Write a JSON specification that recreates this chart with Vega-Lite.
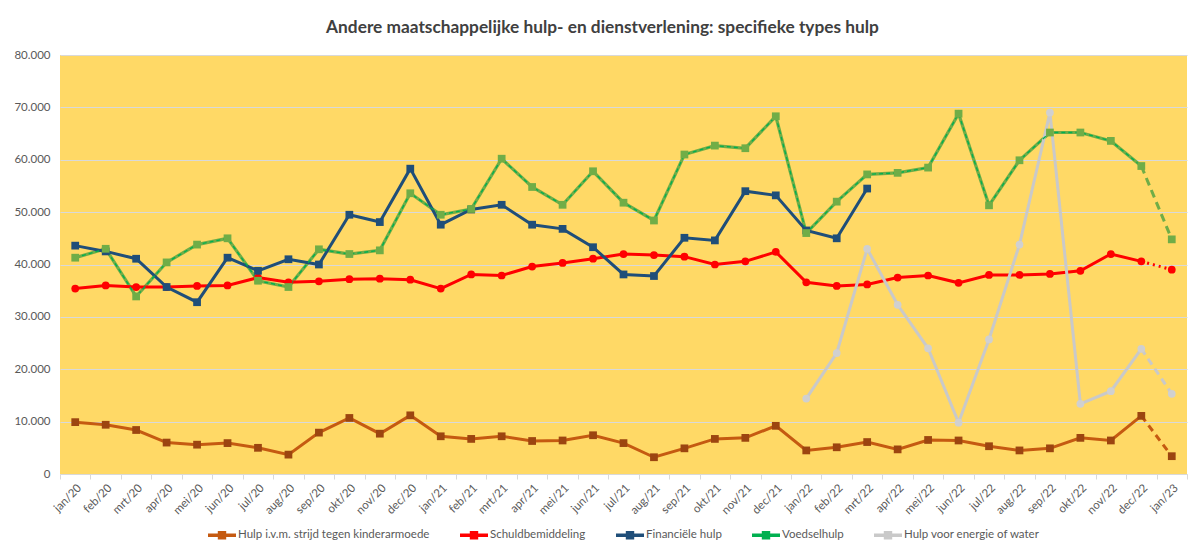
{
  "$schema": "https://vega.github.io/schema/vega-lite/v6.json",
  "width": 1127,
  "height": 419,
  "autosize": {"type": "none"},
  "padding": {"left": 60, "top": 55, "right": 16, "bottom": 75},
  "background": "white",
  "title": {"text": "Andere maatschappelijke hulp- en dienstverlening: specifieke types hulp", "font": "Lato", "fontSize": 17.3, "fontWeight": "bold", "color": "#404040", "anchor": "middle", "offset": 13, "dx": -21},
  "config": {
    "locale": {"number": {"decimal": ",", "thousands": ".", "grouping": [3], "currency": ["€ ", ""]}},
    "view": {"fill": "#FFD966", "stroke": null},
    "font": "Lato",
    "axis": {"labelFont": "Lato", "labelColor": "#595959", "labelFontSize": 11}
  },
  "data": {"values": [
    {"m":"jan/20","s":"Hulp i.v.m. strijd tegen kinderarmoede","v":9900},
    {"m":"feb/20","s":"Hulp i.v.m. strijd tegen kinderarmoede","v":9400},
    {"m":"mrt/20","s":"Hulp i.v.m. strijd tegen kinderarmoede","v":8400},
    {"m":"apr/20","s":"Hulp i.v.m. strijd tegen kinderarmoede","v":6000},
    {"m":"mei/20","s":"Hulp i.v.m. strijd tegen kinderarmoede","v":5600},
    {"m":"jun/20","s":"Hulp i.v.m. strijd tegen kinderarmoede","v":5900},
    {"m":"jul/20","s":"Hulp i.v.m. strijd tegen kinderarmoede","v":5000},
    {"m":"aug/20","s":"Hulp i.v.m. strijd tegen kinderarmoede","v":3700},
    {"m":"sep/20","s":"Hulp i.v.m. strijd tegen kinderarmoede","v":7900},
    {"m":"okt/20","s":"Hulp i.v.m. strijd tegen kinderarmoede","v":10700},
    {"m":"nov/20","s":"Hulp i.v.m. strijd tegen kinderarmoede","v":7700},
    {"m":"dec/20","s":"Hulp i.v.m. strijd tegen kinderarmoede","v":11200},
    {"m":"jan/21","s":"Hulp i.v.m. strijd tegen kinderarmoede","v":7200},
    {"m":"feb/21","s":"Hulp i.v.m. strijd tegen kinderarmoede","v":6700},
    {"m":"mrt/21","s":"Hulp i.v.m. strijd tegen kinderarmoede","v":7200},
    {"m":"apr/21","s":"Hulp i.v.m. strijd tegen kinderarmoede","v":6300},
    {"m":"mei/21","s":"Hulp i.v.m. strijd tegen kinderarmoede","v":6400},
    {"m":"jun/21","s":"Hulp i.v.m. strijd tegen kinderarmoede","v":7400},
    {"m":"jul/21","s":"Hulp i.v.m. strijd tegen kinderarmoede","v":5900},
    {"m":"aug/21","s":"Hulp i.v.m. strijd tegen kinderarmoede","v":3200},
    {"m":"sep/21","s":"Hulp i.v.m. strijd tegen kinderarmoede","v":4900},
    {"m":"okt/21","s":"Hulp i.v.m. strijd tegen kinderarmoede","v":6700},
    {"m":"nov/21","s":"Hulp i.v.m. strijd tegen kinderarmoede","v":6900},
    {"m":"dec/21","s":"Hulp i.v.m. strijd tegen kinderarmoede","v":9200},
    {"m":"jan/22","s":"Hulp i.v.m. strijd tegen kinderarmoede","v":4500},
    {"m":"feb/22","s":"Hulp i.v.m. strijd tegen kinderarmoede","v":5100},
    {"m":"mrt/22","s":"Hulp i.v.m. strijd tegen kinderarmoede","v":6100},
    {"m":"apr/22","s":"Hulp i.v.m. strijd tegen kinderarmoede","v":4700},
    {"m":"mei/22","s":"Hulp i.v.m. strijd tegen kinderarmoede","v":6500},
    {"m":"jun/22","s":"Hulp i.v.m. strijd tegen kinderarmoede","v":6400},
    {"m":"jul/22","s":"Hulp i.v.m. strijd tegen kinderarmoede","v":5300},
    {"m":"aug/22","s":"Hulp i.v.m. strijd tegen kinderarmoede","v":4500},
    {"m":"sep/22","s":"Hulp i.v.m. strijd tegen kinderarmoede","v":4900},
    {"m":"okt/22","s":"Hulp i.v.m. strijd tegen kinderarmoede","v":6900},
    {"m":"nov/22","s":"Hulp i.v.m. strijd tegen kinderarmoede","v":6400},
    {"m":"dec/22","s":"Hulp i.v.m. strijd tegen kinderarmoede","v":11100},
    {"m":"jan/23","s":"Hulp i.v.m. strijd tegen kinderarmoede","v":3400},
    {"m":"jan/20","s":"Schuldbemiddeling","v":35400},
    {"m":"feb/20","s":"Schuldbemiddeling","v":36000},
    {"m":"mrt/20","s":"Schuldbemiddeling","v":35700},
    {"m":"apr/20","s":"Schuldbemiddeling","v":35700},
    {"m":"mei/20","s":"Schuldbemiddeling","v":35900},
    {"m":"jun/20","s":"Schuldbemiddeling","v":36000},
    {"m":"jul/20","s":"Schuldbemiddeling","v":37500},
    {"m":"aug/20","s":"Schuldbemiddeling","v":36600},
    {"m":"sep/20","s":"Schuldbemiddeling","v":36800},
    {"m":"okt/20","s":"Schuldbemiddeling","v":37200},
    {"m":"nov/20","s":"Schuldbemiddeling","v":37300},
    {"m":"dec/20","s":"Schuldbemiddeling","v":37100},
    {"m":"jan/21","s":"Schuldbemiddeling","v":35400},
    {"m":"feb/21","s":"Schuldbemiddeling","v":38100},
    {"m":"mrt/21","s":"Schuldbemiddeling","v":37900},
    {"m":"apr/21","s":"Schuldbemiddeling","v":39600},
    {"m":"mei/21","s":"Schuldbemiddeling","v":40300},
    {"m":"jun/21","s":"Schuldbemiddeling","v":41100},
    {"m":"jul/21","s":"Schuldbemiddeling","v":42000},
    {"m":"aug/21","s":"Schuldbemiddeling","v":41800},
    {"m":"sep/21","s":"Schuldbemiddeling","v":41500},
    {"m":"okt/21","s":"Schuldbemiddeling","v":40000},
    {"m":"nov/21","s":"Schuldbemiddeling","v":40600},
    {"m":"dec/21","s":"Schuldbemiddeling","v":42400},
    {"m":"jan/22","s":"Schuldbemiddeling","v":36600},
    {"m":"feb/22","s":"Schuldbemiddeling","v":35900},
    {"m":"mrt/22","s":"Schuldbemiddeling","v":36200},
    {"m":"apr/22","s":"Schuldbemiddeling","v":37500},
    {"m":"mei/22","s":"Schuldbemiddeling","v":37900},
    {"m":"jun/22","s":"Schuldbemiddeling","v":36500},
    {"m":"jul/22","s":"Schuldbemiddeling","v":38000},
    {"m":"aug/22","s":"Schuldbemiddeling","v":38000},
    {"m":"sep/22","s":"Schuldbemiddeling","v":38200},
    {"m":"okt/22","s":"Schuldbemiddeling","v":38800},
    {"m":"nov/22","s":"Schuldbemiddeling","v":42000},
    {"m":"dec/22","s":"Schuldbemiddeling","v":40600},
    {"m":"jan/23","s":"Schuldbemiddeling","v":39000},
    {"m":"jan/20","s":"Financiële hulp","v":43600},
    {"m":"feb/20","s":"Financiële hulp","v":42500},
    {"m":"mrt/20","s":"Financiële hulp","v":41100},
    {"m":"apr/20","s":"Financiële hulp","v":35700},
    {"m":"mei/20","s":"Financiële hulp","v":32800},
    {"m":"jun/20","s":"Financiële hulp","v":41300},
    {"m":"jul/20","s":"Financiële hulp","v":38800},
    {"m":"aug/20","s":"Financiële hulp","v":41000},
    {"m":"sep/20","s":"Financiële hulp","v":40000},
    {"m":"okt/20","s":"Financiële hulp","v":49500},
    {"m":"nov/20","s":"Financiële hulp","v":48100},
    {"m":"dec/20","s":"Financiële hulp","v":58300},
    {"m":"jan/21","s":"Financiële hulp","v":47600},
    {"m":"feb/21","s":"Financiële hulp","v":50500},
    {"m":"mrt/21","s":"Financiële hulp","v":51400},
    {"m":"apr/21","s":"Financiële hulp","v":47600},
    {"m":"mei/21","s":"Financiële hulp","v":46800},
    {"m":"jun/21","s":"Financiële hulp","v":43300},
    {"m":"jul/21","s":"Financiële hulp","v":38100},
    {"m":"aug/21","s":"Financiële hulp","v":37800},
    {"m":"sep/21","s":"Financiële hulp","v":45100},
    {"m":"okt/21","s":"Financiële hulp","v":44600},
    {"m":"nov/21","s":"Financiële hulp","v":54000},
    {"m":"dec/21","s":"Financiële hulp","v":53200},
    {"m":"jan/22","s":"Financiële hulp","v":46500},
    {"m":"feb/22","s":"Financiële hulp","v":45000},
    {"m":"mrt/22","s":"Financiële hulp","v":54500},
    {"m":"jan/20","s":"Voedselhulp","v":41300},
    {"m":"feb/20","s":"Voedselhulp","v":43000},
    {"m":"mrt/20","s":"Voedselhulp","v":33900},
    {"m":"apr/20","s":"Voedselhulp","v":40400},
    {"m":"mei/20","s":"Voedselhulp","v":43800},
    {"m":"jun/20","s":"Voedselhulp","v":45000},
    {"m":"jul/20","s":"Voedselhulp","v":36900},
    {"m":"aug/20","s":"Voedselhulp","v":35700},
    {"m":"sep/20","s":"Voedselhulp","v":42900},
    {"m":"okt/20","s":"Voedselhulp","v":42000},
    {"m":"nov/20","s":"Voedselhulp","v":42700},
    {"m":"dec/20","s":"Voedselhulp","v":53600},
    {"m":"jan/21","s":"Voedselhulp","v":49500},
    {"m":"feb/21","s":"Voedselhulp","v":50600},
    {"m":"mrt/21","s":"Voedselhulp","v":60200},
    {"m":"apr/21","s":"Voedselhulp","v":54800},
    {"m":"mei/21","s":"Voedselhulp","v":51400},
    {"m":"jun/21","s":"Voedselhulp","v":57800},
    {"m":"jul/21","s":"Voedselhulp","v":51800},
    {"m":"aug/21","s":"Voedselhulp","v":48400},
    {"m":"sep/21","s":"Voedselhulp","v":61000},
    {"m":"okt/21","s":"Voedselhulp","v":62700},
    {"m":"nov/21","s":"Voedselhulp","v":62200},
    {"m":"dec/21","s":"Voedselhulp","v":68300},
    {"m":"jan/22","s":"Voedselhulp","v":46000},
    {"m":"feb/22","s":"Voedselhulp","v":52000},
    {"m":"mrt/22","s":"Voedselhulp","v":57200},
    {"m":"apr/22","s":"Voedselhulp","v":57500},
    {"m":"mei/22","s":"Voedselhulp","v":58500},
    {"m":"jun/22","s":"Voedselhulp","v":68800},
    {"m":"jul/22","s":"Voedselhulp","v":51300},
    {"m":"aug/22","s":"Voedselhulp","v":59900},
    {"m":"sep/22","s":"Voedselhulp","v":65200},
    {"m":"okt/22","s":"Voedselhulp","v":65200},
    {"m":"nov/22","s":"Voedselhulp","v":63600},
    {"m":"dec/22","s":"Voedselhulp","v":58800},
    {"m":"jan/23","s":"Voedselhulp","v":44800},
    {"m":"jan/22","s":"Hulp voor energie of water","v":14400},
    {"m":"feb/22","s":"Hulp voor energie of water","v":23100},
    {"m":"mrt/22","s":"Hulp voor energie of water","v":43000},
    {"m":"apr/22","s":"Hulp voor energie of water","v":32300},
    {"m":"mei/22","s":"Hulp voor energie of water","v":24000},
    {"m":"jun/22","s":"Hulp voor energie of water","v":9800},
    {"m":"jul/22","s":"Hulp voor energie of water","v":25700},
    {"m":"aug/22","s":"Hulp voor energie of water","v":43800},
    {"m":"sep/22","s":"Hulp voor energie of water","v":69000},
    {"m":"okt/22","s":"Hulp voor energie of water","v":13400},
    {"m":"nov/22","s":"Hulp voor energie of water","v":15800},
    {"m":"dec/22","s":"Hulp voor energie of water","v":23900},
    {"m":"jan/23","s":"Hulp voor energie of water","v":15300}
  ]},
  "encoding": {
    "x": {
      "field": "m", "type": "ordinal", "bandPosition": 0.5,
      "scale": {"type": "band", "paddingInner": 0, "paddingOuter": 0,
        "domain": ["jan/20","feb/20","mrt/20","apr/20","mei/20","jun/20","jul/20","aug/20","sep/20","okt/20","nov/20","dec/20","jan/21","feb/21","mrt/21","apr/21","mei/21","jun/21","jul/21","aug/21","sep/21","okt/21","nov/21","dec/21","jan/22","feb/22","mrt/22","apr/22","mei/22","jun/22","jul/22","aug/22","sep/22","okt/22","nov/22","dec/22","jan/23"]},
      "axis": {"title": null, "labelAngle": -45, "tickBand": "extent", "domainColor": "#D9D9D9", "tickColor": "#D9D9D9", "tickSize": 5, "grid": false, "labelPadding": 3, "labelFontSize": 11.5}
    },
    "y": {
      "field": "v", "type": "quantitative",
      "scale": {"domain": [0, 80000], "nice": false},
      "axis": {"title": null, "values": [0,10000,20000,30000,40000,50000,60000,70000,80000], "format": ",d", "domain": false, "ticks": false, "gridColor": "#D9D9D9", "gridWidth": 1, "labelPadding": 10, "labelFontSize": 11.5}
    }
  },
  "layer": [
    {
      "transform": [{"filter": "datum.s == 'Voedselhulp' && datum.m != 'jan/23'"}],
      "mark": {"type": "line", "color": "#70AD47", "strokeWidth": 3.2}
    },
    {
      "transform": [{"filter": "datum.s == 'Voedselhulp' && (datum.m == 'dec/22' || datum.m == 'jan/23')"}],
      "mark": {"type": "line", "color": "#70AD47", "strokeWidth": 3, "strokeDash": [8, 5]}
    },
    {
      "transform": [{"filter": "datum.s != 'Voedselhulp' && datum.m != 'jan/23'"}],
      "mark": {"type": "line", "strokeWidth": 3},
      "encoding": {
        "color": {
          "field": "s", "type": "nominal",
          "scale": {"domain": ["Hulp i.v.m. strijd tegen kinderarmoede","Schuldbemiddeling","Financiële hulp","Voedselhulp","Hulp voor energie of water"],
                    "range": ["#C55A11","#FF0000","#1F4E79","#00B050","#C9C9C9"]},
          "legend": {
            "orient": "none", "legendX": 148, "legendY": 466, "direction": "horizontal", "title": null,
            "symbolType": "M-1,-0.12H1V0.12H-1Z M-0.3,-0.3H0.3V0.3H-0.3Z", "symbolSize": 784,
            "symbolStrokeWidth": 0, "labelFont": "Lato", "labelFontSize": 11.5, "labelColor": "#595959",
            "labelLimit": 0, "columnPadding": 30, "labelOffset": 2,
            "encode": {"symbols": {"update": {
              "shape": {"value": "M-1,-0.12H1V0.12H-1Z M-0.3,-0.3H0.3V0.3H-0.3Z"},
              "size": {"value": 784},
              "fill": {"scale": "color", "field": "value"},
              "stroke": {"value": "transparent"},
              "strokeWidth": {"value": 0},
              "opacity": {"value": 1}
            }}}
          }
        }
      }
    },
    {
      "transform": [{"filter": "datum.s == 'Voedselhulp' && datum.m != 'jan/23'"}],
      "mark": {"type": "line", "strokeWidth": 1.3, "strokeDash": [4, 3]},
      "encoding": {"color": {"field": "s", "type": "nominal"}}
    },
    {
      "transform": [{"filter": "datum.s != 'Voedselhulp' && datum.s != 'Financiële hulp' && (datum.m == 'dec/22' || datum.m == 'jan/23')"}],
      "mark": {"type": "line", "strokeWidth": 3},
      "encoding": {
        "color": {"field": "s", "type": "nominal"},
        "strokeDash": {"field": "s", "type": "nominal", "legend": null,
          "scale": {"domain": ["Schuldbemiddeling","Hulp i.v.m. strijd tegen kinderarmoede","Hulp voor energie of water"], "range": [[2, 4], [7, 5], [7, 5]]}}
      }
    },
    {
      "mark": {"type": "point", "filled": true, "size": 60, "opacity": 1, "strokeWidth": 0},
      "encoding": {
        "fill": {"field": "s", "type": "nominal", "legend": null,
          "scale": {"domain": ["Financiële hulp","Hulp i.v.m. strijd tegen kinderarmoede","Hulp voor energie of water","Schuldbemiddeling","Voedselhulp"],
                    "range": ["#1F4E79","#9C4510","#D0D0D0","#FF0000","#70AD47"]}},
        "shape": {"field": "s", "type": "nominal", "legend": null,
          "scale": {"domain": ["Financiële hulp","Hulp i.v.m. strijd tegen kinderarmoede","Hulp voor energie of water","Schuldbemiddeling","Voedselhulp"],
                    "range": ["square","square","circle","circle","square"]}}
      }
    }
  ]
}
